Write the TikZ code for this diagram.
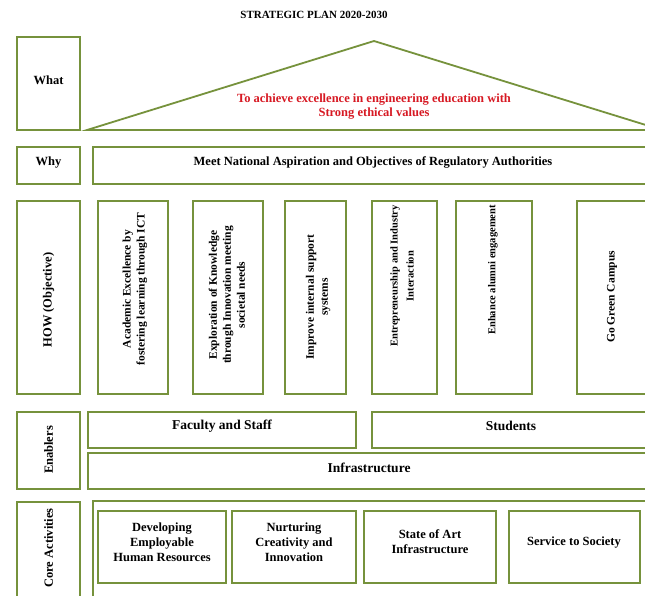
\documentclass[tikz,border=0pt]{standalone}
\usepackage{fontspec}
\setmainfont{Liberation Serif}
\usetikzlibrary{fit}
\definecolor{lineg}{RGB}{118,146,60}
\definecolor{redtxt}{RGB}{215,25,35}
\tikzset{
  gbox/.style={draw=lineg, line width=1.8pt, fill=white, inner sep=0pt},
  lbl/.style={font=\bfseries\fontsize{11}{14}\selectfont, align=center, inner sep=0pt},
  sidelbl/.style={lbl, font=\bfseries\fontsize{12.5}{14}\selectfont},
  objlbl/.style={lbl, font=\bfseries\fontsize{11.5}{14}\selectfont},
  smobjlbl/.style={lbl, font=\bfseries\fontsize{10.5}{16}\selectfont},
  midlbl/.style={lbl, font=\bfseries\fontsize{12.5}{14}\selectfont},
  enlbl/.style={lbl, font=\bfseries\fontsize{13.5}{15}\selectfont},
  corelbl/.style={lbl, font=\bfseries\fontsize{12.5}{15}\selectfont},
}
\begin{document}
\begin{tikzpicture}[x=1pt,y=-1pt]
\useasboundingbox (0,0) rectangle (645,595);
\fill[white] (0,0) rectangle (645,595);
\clip (0,0) rectangle (645,595);

\node[lbl] (title) at (314,15) {STRATEGIC PLAN 2020-2030};

% What
\node[gbox, fit={(17,37) (80,130)}] (what) {};
\node[sidelbl] (whatt) at (48.5,80) {What};
\coordinate (tl) at (87,130);
\coordinate (ta) at (374,41);
\coordinate (tr) at (662,130);
\draw[draw=lineg, line width=1.8pt, line join=miter] (tl) -- (ta) -- (tr) -- cycle;
\node[midlbl, text=redtxt] (goal) at (374,107) {To achieve excellence in engineering education with\\Strong ethical values};

% Why
\node[gbox, fit={(17,147) (80,184)}] (why) {};
\node[sidelbl] (whyt) at (48.5,163) {Why};
\node[gbox, fit={(93,147) (652,184)}] (whyc) {};
\node[midlbl] (whyct) at (373,162) {Meet National Aspiration and Objectives of Regulatory Authorities};

% How
\node[gbox, fit={(17,201) (80,394)}] (how) {};
\node[sidelbl, rotate=90] (howt) at (48.5,300) {HOW (Objective)};
\node[gbox, fit={(98,201) (168,394)}] (o1) {};
\node[objlbl, rotate=90] (o1t) at (135,289) {Academic Excellence by\\fostering learning through ICT};
\node[gbox, fit={(193,201) (263,394)}] (o2) {};
\node[objlbl, rotate=90] (o2t) at (227,295) {Exploration of Knowledge\\through Innovation meeting\\societal needs};
\node[gbox, fit={(285,201) (346,394)}] (o3) {};
\node[objlbl, rotate=90] (o3t) at (318,297) {Improve internal support\\systems};
\node[gbox, fit={(372,201) (437,394)}] (o4) {};
\node[smobjlbl, rotate=90] (o4t) at (402,276) {Entrepreneurship and Industry\\Interaction};
\node[gbox, fit={(456,201) (532,394)}] (o5) {};
\node[smobjlbl, rotate=90] (o5t) at (493,270) {Enhance alumni engagement};
\node[gbox, fit={(577,201) (648,394)}] (o6) {};
\node[objlbl, rotate=90] (o6t) at (612,297) {Go Green Campus};

% Enablers
\node[gbox, fit={(17,412) (80,489)}] (en) {};
\node[sidelbl, rotate=90] (ent) at (48.5,450) {Enablers};
\node[gbox, fit={(88,412) (356,448)}] (fac) {};
\node[enlbl] (fact) at (222,426) {Faculty and Staff};
\node[gbox, fit={(372,412) (652,448)}] (stu) {};
\node[enlbl] (stut) at (511,426) {Students};
\node[gbox, fit={(88,453) (652,489)}] (inf) {};
\node[enlbl] (inft) at (369,468) {Infrastructure};

% Core activities
\node[gbox, fit={(17,502) (80,612)}] (core) {};
\node[sidelbl, rotate=90] (coret) at (48.5,548) {Core Activities};
\node[gbox, fit={(93,501) (655,612)}] (coreo) {};
\node[gbox, fit={(98,511) (226,583)}] (c1) {};
\node[corelbl] (c1t) at (162,542) {Developing\\Employable\\Human Resources};
\node[gbox, fit={(232,511) (356,583)}] (c2) {};
\node[corelbl] (c2t) at (294,542) {Nurturing\\Creativity and\\Innovation};
\node[gbox, fit={(364,511) (496,583)}] (c3) {};
\node[corelbl] (c3t) at (430,542) {State of Art\\Infrastructure};
\node[gbox, fit={(509,511) (640,583)}] (c4) {};
\node[corelbl] (c4t) at (574,543) {Service to Society};
\end{tikzpicture}
\end{document}
